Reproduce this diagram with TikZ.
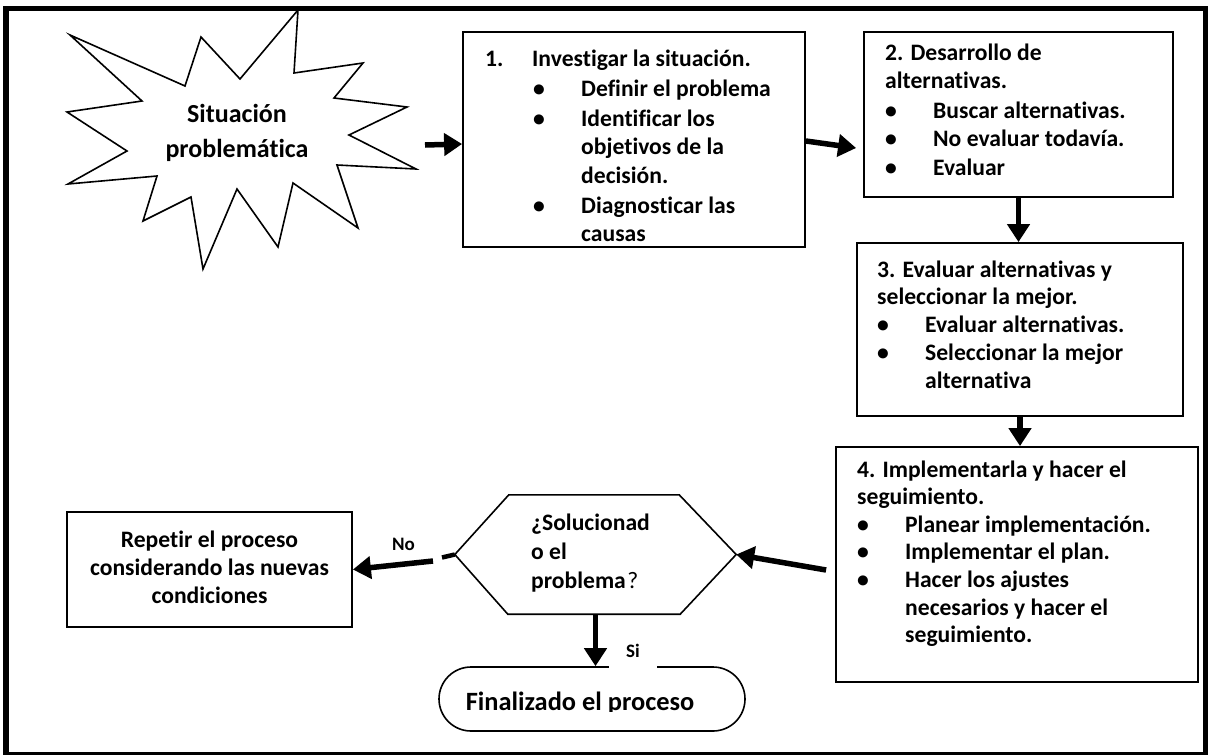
\documentclass[tikz,border=0pt]{standalone}
\usepackage{fontspec}
\setmainfont{Carlito}[Ligatures=NoCommon]
\usetikzlibrary{arrows.meta,shapes.misc}
\tikzset{
  box/.style={draw, rectangle, line width=1.8pt, inner sep=0pt},
  txt/.style={inner sep=0pt, anchor=base west, font=\bfseries},
  conn/.style={line width=5.5pt, -{Triangle[length=18pt,width=22pt]}},
  lbl/.style={inner sep=0pt, anchor=base west, font=\bfseries\fontsize{19}{22}\selectfont},
  burst/.style={draw, line width=1.6pt, line join=miter},
}
\newcommand\itm{\makebox[48pt][l]{\textbullet}}
\newcommand\ind{\hspace*{48pt}}
\begin{document}
\begin{tikzpicture}[x=1pt,y=-1pt]
\useasboundingbox (0,0) rectangle (1209,755);
% outer frame
\draw[line width=5.5pt] (6,6.25) -- (6,755);
\draw[line width=4.5pt] (3.25,8.5) -- (1208.25,8.5);
\draw[line width=5.5pt] (1205.5,6.25) -- (1205.5,755);
\draw[line width=3pt] (3.25,753.5) -- (1208.25,753.5);
% starburst
\draw[burst] (298,10) -- (294,73) -- (363,63) -- (334,98) -- (407,107) -- (349,135)
  -- (416,169) -- (337,165) -- (358,228) -- (293,183) -- (278,247) -- (237,189)
  -- (203,269) -- (191,197) -- (143,221) -- (157,176) -- (68,184) -- (127,151)
  -- (67,112) -- (142,101) -- (70,35) -- (185,86) -- (201,37) -- (240,79) -- cycle;
\node[txt, anchor=base] (sit) at (237,122) {\fontsize{26}{35}\selectfont\begin{tabular}[t]{@{}c@{}}Situación\\problemática\end{tabular}};
% boxes
\node[box, minimum width=342pt, minimum height=215pt] (b1) at (634,139.5) {};
\node[box, minimum width=309pt, minimum height=165pt] (b2) at (1018.5,114.5) {};
\node[box, minimum width=326pt, minimum height=173pt] (b3) at (1020,329.5) {};
\node[box, minimum width=362pt, minimum height=235pt] (b4) at (1017,564.5) {};
\node[box, minimum width=285pt, minimum height=115pt] (rep) at (209.5,569.5) {};
\node[minimum width=281pt, minimum height=119pt, inner sep=0pt] (hex) at (595.5,554.5) {};
\draw[line width=1.6pt, line join=miter] (hex.west) -- ([xshift=54pt]hex.north west) -- ([xshift=-57pt]hex.north east)
  -- (hex.east) -- ([xshift=-56pt]hex.south east) -- ([xshift=53pt]hex.south west) -- cycle;
\node[draw, rounded rectangle, line width=1.6pt, minimum width=306pt, minimum height=64pt, inner sep=0pt] (fin) at (592,699) {};
% texts
\node[txt] (t1) at (485,66) {\fontsize{23.6}{28.5}\selectfont\begin{tabular}[t]{@{}l@{}}
\makebox[47pt][l]{1.}Investigar la situación.\\[1.5pt]
\ind\itm Definir el problema\\[1.5pt]
\ind\itm Identificar los\\
\ind\ind objetivos de la\\
\ind\ind decisión.\\[1.5pt]
\ind\itm Diagnosticar las\\
\ind\ind causas
\end{tabular}};
\node[txt] (t2) at (885,60) {\fontsize{23.6}{28.5}\selectfont\begin{tabular}[t]{@{}l@{}}
2. Desarrollo de\\
alternativas.\\[1pt]
\itm Buscar alternativas.\\
\itm No evaluar todavía.\\
\itm Evaluar
\end{tabular}};
\node[txt] (t3) at (877,277) {\fontsize{23.6}{27.8}\selectfont\begin{tabular}[t]{@{}l@{}}
3. Evaluar alternativas y\\
seleccionar la mejor.\\
\itm Evaluar alternativas.\\
\itm Seleccionar la mejor\\
\ind alternativa
\end{tabular}};
\node[txt] (t4) at (857,477) {\fontsize{23.6}{27.6}\selectfont\begin{tabular}[t]{@{}l@{}}
4. Implementarla y hacer el\\
seguimiento.\\
\itm Planear implementación.\\
\itm Implementar el plan.\\
\itm Hacer los ajustes\\
\ind necesarios y hacer el\\
\ind seguimiento.
\end{tabular}};
\node[txt, anchor=base] (rept) at (209.5,547) {\fontsize{23.6}{28}\selectfont\begin{tabular}[t]{@{}c@{}}Repetir el proceso\\considerando las nuevas\\condiciones\end{tabular}};
\node[txt] (hext) at (531,530) {\fontsize{23.6}{29}\selectfont\begin{tabular}[t]{@{}l@{}}¿Solucionad\\o el\\problema{\mdseries\kern1.5pt?}\end{tabular}};
\begin{scope}
\clip (430,660) rectangle (760,711);
\node[txt, anchor=base] (fint) at (580,710) {\fontsize{26.4}{30}\selectfont Finalizado el proceso};
\end{scope}
% labels
\node[lbl, anchor=base, fill=white, inner xsep=17pt, inner ysep=1pt, text depth=11pt] (si) at (633,657) {Si};
\node[lbl] (no) at (392,550) {No};
% connectors
\coordinate (s0) at (425,145);
\draw[conn] (s0) -- ([yshift=-4.5pt]b1.west);
\draw[conn] ([yshift=-1.5pt]b1.east) -- ([xshift=-7pt,yshift=-33.5pt]b2.west);
\draw[conn] (b2.south) -- (b2.south |- b3.north);
\draw[conn] (b3.south) -- (b3.south |- b4.north);
\coordinate (c4) at ([xshift=-9pt,yshift=-5.5pt]b4.west);
\draw[conn] (c4) -- (hex.east);
\coordinate (nR) at (442,557.5);
\coordinate (nL) at (433,561);
\draw[line width=4.5pt] (hex.west) -- (nR);
\draw[conn] (nL) -- (rep.east);
\draw[conn] (hex.south) -- (hex.south |- fin.north);
\end{tikzpicture}
\end{document}
